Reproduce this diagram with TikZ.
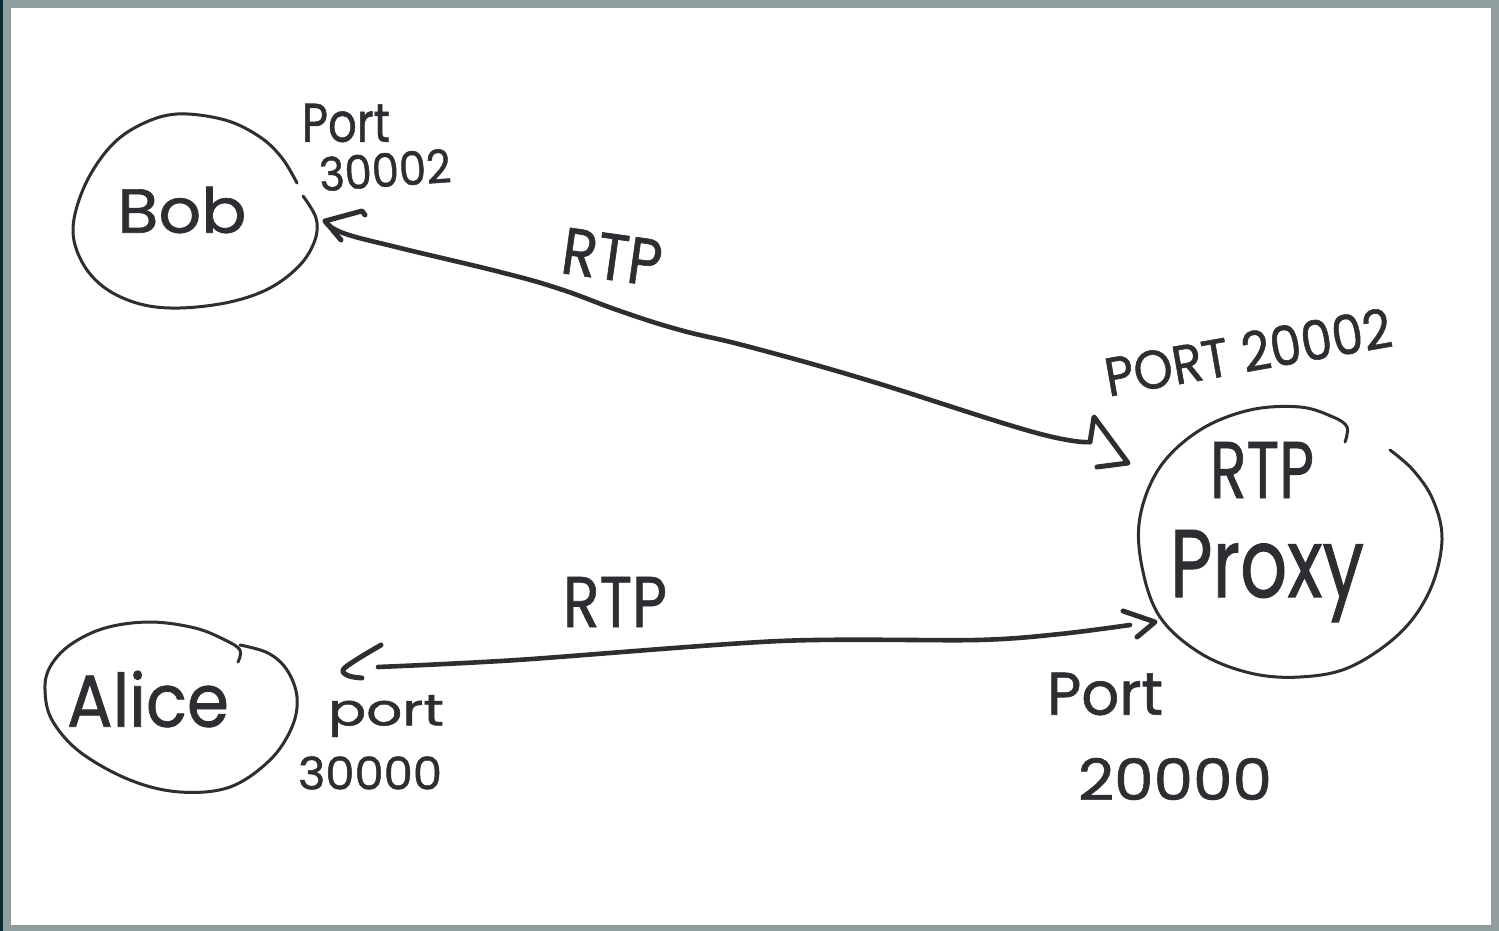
\documentclass[tikz,border=0pt]{standalone}
\usepackage{fontspec}
\setmainfont{Poppins}
\newfontface\inkface[FakeBold=1]{Poppins}
\usepackage{graphicx}
\definecolor{ink}{RGB}{45,46,50}
\definecolor{framegray}{RGB}{143,158,156}
\definecolor{frameedge}{RGB}{12,42,52}
% scale a piece of text to a given width and height (depth counted in the starred one)
\newcommand\fitbox[3]{\resizebox{#1}{#2}{\inkface #3}}
\newcommand\fitboxd[3]{\resizebox*{#1}{#2}{\inkface #3}}
\tikzset{
  lbl/.style={inner sep=0pt, outer sep=0pt, text=ink},
  outline/.style={draw=ink, line width=1.5pt, line cap=round, line join=round},
  wire/.style={draw=ink, line width=2.3pt, line cap=round, line join=round},
  tip/.style={draw=ink, line width=2.5pt, line cap=round, line join=round},
}
\begin{document}
\begin{tikzpicture}[x=0.5pt, y=-0.5pt]
  \useasboundingbox (0,0) rectangle (1499,931);
  % frame
  \fill[framegray] (0,0) rectangle (1499,931);
  \fill[white] (11,8) rectangle (1491,925);
  \fill[frameedge] (0,0) rectangle (3,931);

  % ---- Bob ----
  \node[lbl] (bob) at (182,210) {\fitbox{64.5pt}{23pt}{Bob}};
  \draw[outline] plot[smooth, tension=0.6] coordinates {
    (297,183) (282,158) (260,137) (225,120) (177,114) (140,125) (110,147)
    (85,185) (73,228) (82,262) (105,288) (140,304) (180,308) (230,302)
    (270,288) (300,265) (315,240) (316,218) (303,196)};
  \node[lbl] (bobport) at (346,123) {\fitbox{44pt}{19pt}{Port}};
  \node[lbl, rotate=4] (bobnum) at (385,170) {\fitbox{66pt}{17pt}{30002}};

  % ---- Alice ----
  \node[lbl] (alice) at (148,699) {\fitbox{81pt}{28pt}{Alice}};
  \draw[outline] plot[smooth, tension=0.6] coordinates {
    (238,662) (240,650) (225,640) (195,628) (150,622) (105,628) (70,645)
    (50,667) (45,690) (52,720) (80,752) (130,780) (180,792) (230,787)
    (270,760) (292,727) (297,697) (287,670) (268,653) (240,645)};
  \node[lbl] (aliceport) at (386,716) {\fitboxd{58pt}{21pt}{port}};
  \node[lbl] (alicenum) at (370,773) {\fitbox{72pt}{16.5pt}{30000}};

  % ---- RTP proxy ----
  \node[lbl] (proxy1) at (1262,470) {\fitbox{52pt}{28pt}{RTP}};
  \node[lbl] (proxy2) at (1267,576) {\fitboxd{97pt}{46pt}{Proxy}};
  \draw[outline] plot[smooth, tension=0.6] coordinates {
    (1345,442) (1347,427) (1333,417) (1300,407) (1250,410) (1200,430)
    (1160,467) (1140,517) (1142,567) (1160,617) (1200,653) (1250,673)
    (1300,677) (1350,667) (1400,633) (1430,590) (1442,540) (1433,500)
    (1413,470) (1390,450)};
  \node[lbl, rotate=10] (proxyport) at (1248,352) {\fitbox{145pt}{20pt}{PORT 20002}};
  \node[lbl] (proxyport2) at (1105,694) {\fitbox{58pt}{21pt}{Port}};
  \node[lbl] (proxynum2) at (1175,779) {\fitbox{97pt}{21pt}{20000}};

  % ---- Bob <-> proxy ----
  \coordinate (bobtip) at (325,221);
  \coordinate (proxytipA) at (1128,463);
  \draw[wire] plot[smooth, tension=0.7] coordinates {
    (bobtip) (343,233) (400,248) (500,272) (560,289) (620,311) (680,330)
    (750,347) (867,380) (1033,432) (1090,442)};
  \draw[tip] (365,215) -- (362,211) -- (bobtip) -- (341,240);
  \draw[tip] (1090,442) -- (1094,417) -- (proxytipA) -- (1097,467);
  \node[lbl, rotate=-8] (rtpA) at (612,257) {\fitbox{50pt}{23pt}{RTP}};

  % ---- Alice <-> proxy ----
  \coordinate (alicetip) at (343,670);
  \coordinate (proxytipB) at (1155,622);
  \draw[wire] plot[smooth, tension=0.5] coordinates {
    (378,667) (517,660) (780,641) (977,640) (1060,634) (1130,625)};
  \draw[tip] plot[smooth, tension=0.6] coordinates {
    (381,645) (356,660) (alicetip) (349,676) (362,678)};
  \draw[tip] (1123,611) -- (proxytipB) -- (1137,637);
  \node[lbl] (rtpB) at (615,602) {\fitbox{52pt}{25pt}{RTP}};
\end{tikzpicture}
\end{document}
